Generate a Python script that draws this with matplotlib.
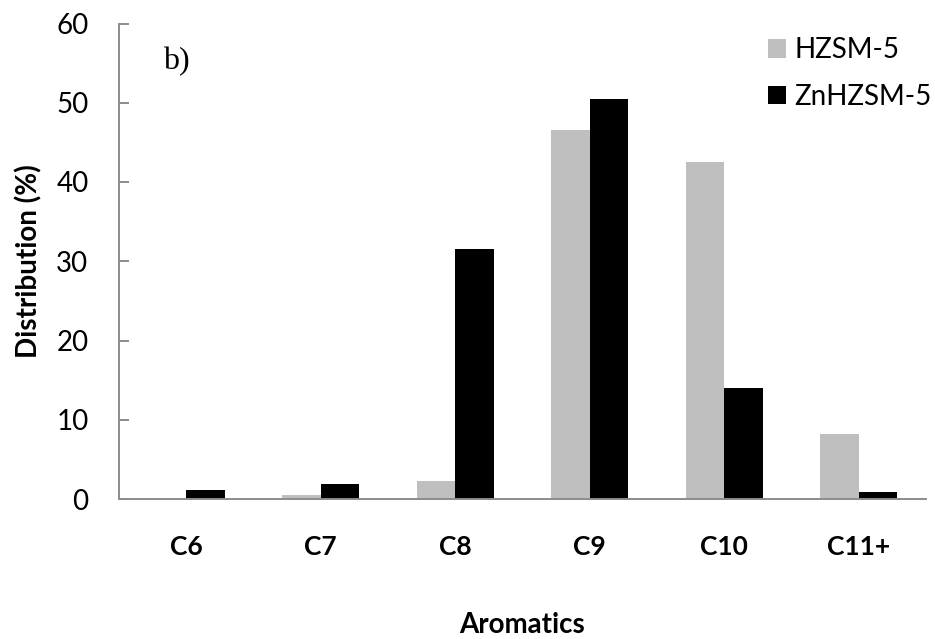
import matplotlib
matplotlib.use("Agg")
import matplotlib.pyplot as plt
import numpy as np
from matplotlib.patches import Patch

categories = ["C6", "C7", "C8", "C9", "C10", "C11+"]
hzsm5 = [0.0, 0.5, 2.3, 46.5, 42.5, 8.2]
znhzsm5 = [1.1, 1.9, 31.5, 50.5, 14.0, 0.9]
series_names = ["HZSM-5", "ZnHZSM-5"]
yticks = [0, 10, 20, 30, 40, 50, 60]

plt.rcParams["font.family"] = ["Lato", "DejaVu Sans"]

W, H = 935, 639
fig = plt.figure(figsize=(W / 100, H / 100), dpi=100)
left, right, top, bottom = 119, 926, 23.5, 499
ax = fig.add_axes([left / W, 1 - bottom / H, (right - left) / W, (bottom - top) / H])

x = np.arange(len(categories))
bw = 0.285
ax.bar(x - bw / 2, hzsm5, width=bw, color="#BFBFBF", label=series_names[0], zorder=2)
ax.bar(x + bw / 2, znhzsm5, width=bw, color="#000000", label=series_names[1], zorder=2)

ax.set_xlim(-0.5, len(categories) - 0.5)
ax.set_ylim(0, 60)
ax.set_yticks(yticks)
ax.set_xticks(x)
ax.set_xticklabels(categories, fontsize=19, fontweight="bold")

spine_col = "#8C8C8C"
for s in ["top", "right"]:
    ax.spines[s].set_visible(False)
for s in ["left", "bottom"]:
    ax.spines[s].set_color(spine_col)
    ax.spines[s].set_linewidth(1.4)

ax.tick_params(axis="y", direction="in", length=7, width=1.4, color=spine_col,
               labelsize=20, pad=22)
ax.tick_params(axis="x", length=0, pad=26)

ax.set_ylabel("Distribution (%)", fontsize=20, fontweight="bold", labelpad=10)
ax.set_xlabel("Aromatics", fontsize=20, fontweight="bold", labelpad=38)

ax.text(0.055, 0.92, "b)", transform=ax.transAxes, fontsize=23,
        family="Liberation Serif", va="center", ha="left")

handles = [Patch(facecolor="#BFBFBF"), Patch(facecolor="#000000")]
leg = ax.legend(handles, series_names, loc="upper left",
                bbox_to_anchor=(768 / W, 1 - 37 / H), bbox_transform=fig.transFigure,
                frameon=False, fontsize=20, handlelength=0.65, handleheight=0.65,
                handletextpad=0.3, labelspacing=0.75, borderaxespad=0, borderpad=0)

fig.savefig("out.png", dpi=100)
